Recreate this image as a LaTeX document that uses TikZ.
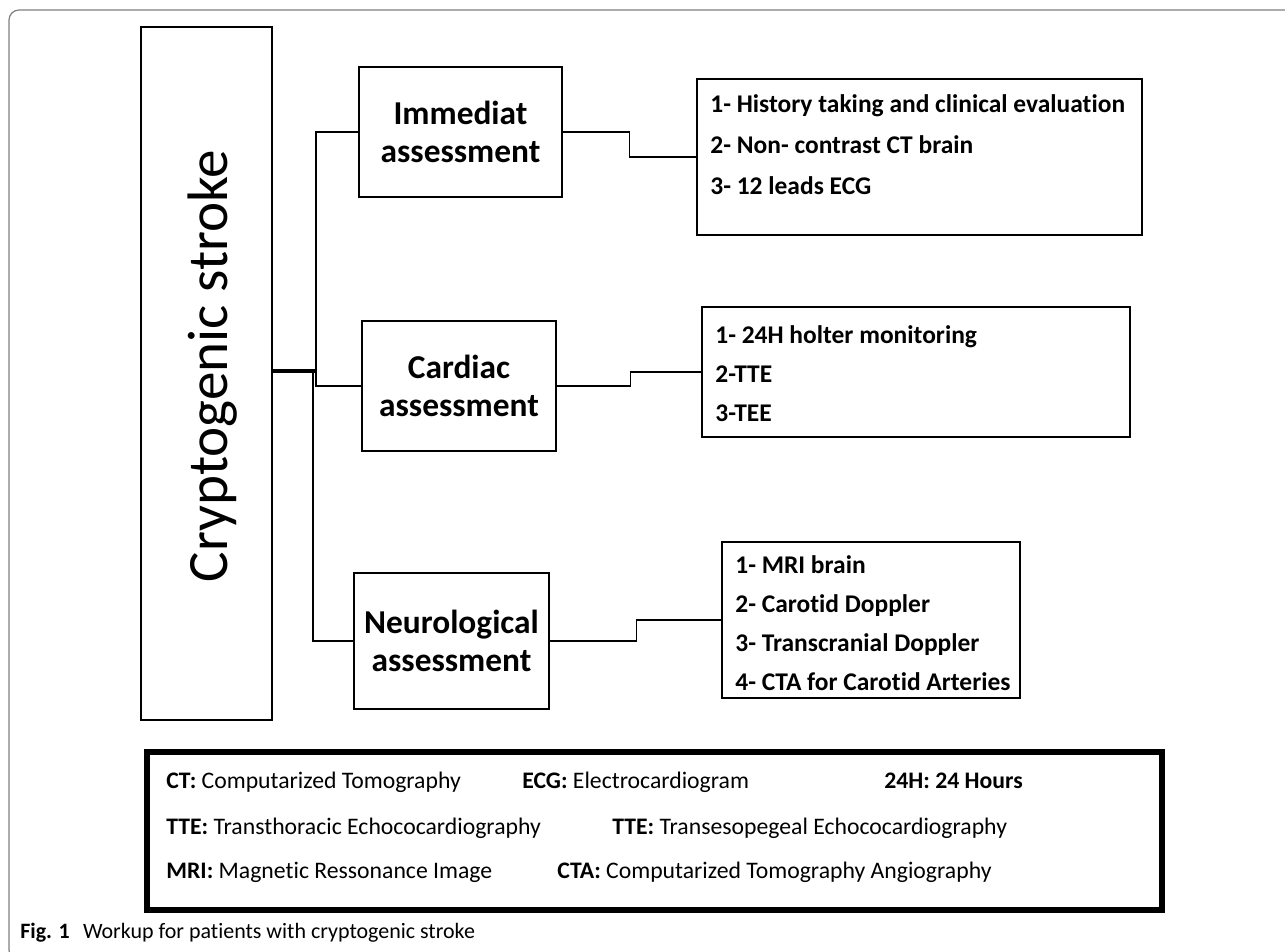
\documentclass[tikz,border=0pt]{standalone}
\usepackage{fontspec}
\setmainfont{Carlito}[Ligatures=NoCommon]
\usetikzlibrary{positioning}

\begin{document}
\begin{tikzpicture}[x=0.02cm,y=-0.02cm,
    box/.style={draw,line width=1.6pt,inner sep=0pt},
    head/.style={font=\bfseries\fontsize{19}{21.5}\selectfont,align=center},
    item/.style={anchor=base west,inner sep=0pt,font=\bfseries\fontsize{14.5}{17}\selectfont},
    key/.style={anchor=base west,inner sep=0pt,font=\fontsize{13.5}{16}\selectfont},
    link/.style={line width=0.9pt},
    trunk/.style={line width=1.8pt}]
\useasboundingbox (0,0) rectangle (1285,951);
%% outer frame
\draw[gray,line width=0.7pt,rounded corners=0.2cm] (1300,10) -- (9,10) -- (9,960) -- (40,960);

%% root
\node[box,minimum width=2.62cm,minimum height=13.86cm] (crypto) at (206.5,373.5) {};
\node[rotate=90,font=\fontsize{32.5}{36}\selectfont] (cryptotext) at (213,366) {Cryptogenic stroke};

%% assessments
\node[box,head,minimum width=4.06cm,minimum height=2.6cm] (imm) at (460.5,132) {Immediat\\assessment};
\node[box,head,minimum width=3.88cm,minimum height=2.6cm] (card) at (459,386) {Cardiac\\assessment};
\node[box,head,minimum width=3.9cm,minimum height=2.72cm] (neuro) at (451.5,641) {Neurological\\assessment};

%% lists
\node[box,minimum width=8.9cm,minimum height=3.12cm] (imml) at (919.5,157) {};
\node[box,minimum width=8.56cm,minimum height=2.6cm] (cardl) at (916,372) {};
\node[box,minimum width=5.96cm,minimum height=3.12cm] (neurol) at (871,620) {};

\foreach \t [count=\i] in {1- History taking and clinical evaluation,2- Non- contrast CT brain,3- 12 leads ECG}{
\node[item] (imm\i) at (710,{112+41*(\i-1)}) {\t};
}
\foreach \t [count=\i] in {1- 24H holter monitoring,2-TTE,3-TEE}{
\node[item] (card\i) at (715,{343+39*(\i-1)}) {\t};
}
\foreach \t [count=\i] in {1- MRI brain,2- Carotid Doppler,3- Transcranial Doppler,4- CTA for Carotid Arteries}{
\node[item] (neuro\i) at (735,{573+39*(\i-1)}) {\t};
}

%% connectors
\coordinate (hub) at (316,371);
\coordinate (hubb) at (313,371);
\draw[trunk] (crypto.east |- hub) -- (hub);
\draw[link] (hub) |- (imm.west);
\draw[link] (hub) |- (card.west);
\draw[link] (hubb) |- (neuro.west);
\draw[link] (imm.east) -- ++(66,0) |- (imml.west);
\draw[link] (card.east) -- ++(73,0) |- (cardl.west);
\draw[link] (neuro.east) -- ++(86,0) |- (neurol.west);

%% abbreviations
\node[draw,line width=3pt,minimum width=20.3cm,minimum height=3.16cm] (legend) at (654.5,831) {};
\node[key] (kct) at (166,788) {\textbf{CT:} Computarized Tomography};
\node[key] (kecg) at (522,788) {\textbf{ECG:} Electrocardiogram};
\node[key] (khr) at (884,788) {\textbf{24H: 24 Hours}};
\node[key] (ktte) at (166,834) {\textbf{TTE:} Transthoracic Echococardiography};
\node[key] (ktee) at (612,834) {\textbf{TTE:} Transesopegeal Echococardiography};
\node[key] (kmri) at (166,878) {\textbf{MRI:} Magnetic Ressonance Image};
\node[key] (kcta) at (557,878) {\textbf{CTA:} Computarized Tomography Angiography};

%% caption
\node[anchor=west,inner sep=0pt,font=\fontsize{12.5}{14}\selectfont] (caption) at (20,933) {\textbf{Fig. 1}\hspace{0.6em}Workup for patients with cryptogenic stroke};
\end{tikzpicture}
\end{document}
